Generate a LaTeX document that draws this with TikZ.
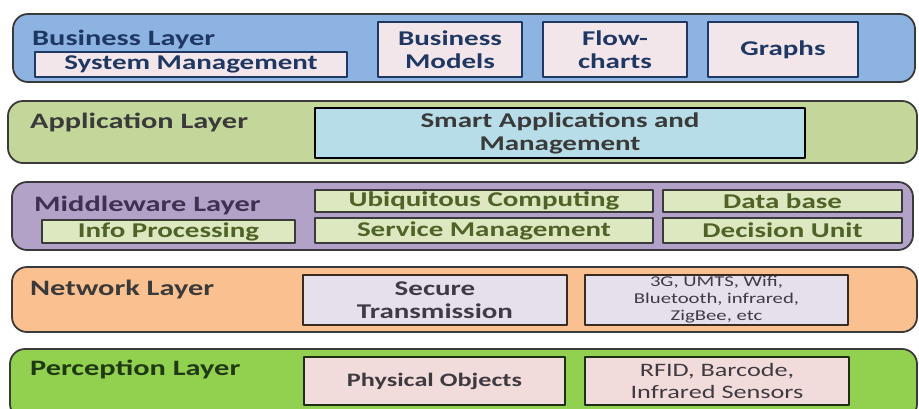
\documentclass[tikz,border=0pt]{standalone}
\usepackage{fontspec}
\setmainfont{Carlito}[FakeStretch=1.38]
\definecolor{edge}{HTML}{3A3A3A}
\definecolor{bizfill}{HTML}{8DB3E2}
\definecolor{bizbox}{HTML}{F3E6EB}
\definecolor{biztext}{HTML}{1F3763}
\definecolor{appfill}{HTML}{C4D79B}
\definecolor{appbox}{HTML}{B7DEE8}
\definecolor{apptext}{HTML}{3A3A3A}
\definecolor{midfill}{HTML}{B3A2C7}
\definecolor{midbox}{HTML}{DDE8C0}
\definecolor{midtext}{HTML}{4F6228}
\definecolor{midlbl}{HTML}{3F3151}
\definecolor{netfill}{HTML}{FAC090}
\definecolor{netbox}{HTML}{E6E0EC}
\definecolor{netedge}{HTML}{3B2A20}
\definecolor{nettext}{HTML}{3F3A45}
\definecolor{perfill}{HTML}{92D050}
\definecolor{perbox}{HTML}{F2DCDB}
\definecolor{peredge}{HTML}{1E2E14}
\definecolor{pertext}{HTML}{3F3A40}
\definecolor{perlbl}{HTML}{1F3A12}
\begin{document}
\begin{tikzpicture}[x=1pt,y=-1pt,line join=round,
	lyr/.style={draw=edge,line width=1.8pt,rounded corners=15pt,inner sep=0pt},
	cell/.style={draw,line width=2pt,inner sep=0pt,align=center,font=\bfseries\fontsize{21}{23}\selectfont},
	small/.style={font=\fontsize{15}{17}\selectfont},
	ttl/.style={anchor=west,inner sep=0pt,font=\bfseries\fontsize{22}{24}\selectfont},
	sz/.style 2 args={minimum width=#1pt,minimum height=#2pt}]
	\useasboundingbox (0,0) rectangle (919,408);
	\clip (0,0) rectangle (919,408);
	\node[lyr,fill=bizfill,sz={902}{68}] (business) at (464,48) {};
	\node[ttl,text=biztext] (businesslbl) at (32,40) {Business Layer};
	\node[cell,draw=biztext,fill=bizbox,text=biztext,sz={312}{25}] (sysmgmt) at (191,64.5) {System Management};
	\node[cell,draw=biztext,fill=bizbox,text=biztext,sz={144}{55}] (bizmodels) at (450,49.5) {Business\\Models};
	\node[cell,draw=biztext,fill=bizbox,text=biztext,sz={144}{55}] (flowcharts) at (615,49.5) {Flow-\\charts};
	\node[cell,draw=biztext,fill=bizbox,text=biztext,sz={150}{55}] (graphs) at (783,49.5) {Graphs};
	\node[lyr,fill=appfill,sz={909}{62}] (application) at (462.5,132) {};
	\node[ttl,text=apptext] (applicationlbl) at (30,122) {Application Layer};
	\node[cell,draw=black,fill=appbox,text=apptext,sz={490}{50}] (smartapps) at (560,133) {Smart Applications and\\Management};
	\node[lyr,fill=midfill,sz={901}{68}] (middleware) at (462.5,216) {};
	\node[ttl,text=midlbl] (middlewarelbl) at (34,206) {Middleware Layer};
	\node[cell,draw=edge,fill=midbox,text=midtext,sz={338}{22}] (ubiquitous) at (484,201) {Ubiquitous Computing};
	\node[cell,draw=edge,fill=midbox,text=midtext,sz={239}{22}] (database) at (782.5,201) {Data base};
	\node[cell,draw=edge,fill=midbox,text=midtext,sz={253}{23}] (infoproc) at (168.5,231.5) {Info Processing};
	\node[cell,draw=edge,fill=midbox,text=midtext,sz={338}{25}] (servmgmt) at (484,230.5) {Service Management};
	\node[cell,draw=edge,fill=midbox,text=midtext,sz={239}{25}] (decision) at (782.5,230.5) {Decision Unit};
	\node[lyr,fill=netfill,sz={905}{65}] (network) at (464.5,299.5) {};
	\node[ttl,text=apptext] (networklbl) at (30,290) {Network Layer};
	\node[cell,draw=netedge,fill=netbox,text=nettext,sz={264}{50}] (secure) at (435,300) {Secure\\Transmission};
	\node[cell,small,draw=netedge,fill=netbox,text=nettext,sz={263}{50}] (wireless) at (716.5,300) {3G, UMTS, Wifi,\\Bluetooth, infrared,\\ZigBee, etc};
	\node[lyr,fill=perfill,sz={907}{70}] (perception) at (463.5,384) {};
	\node[ttl,text=perlbl] (perceptionlbl) at (30,369) {Perception Layer};
	\node[cell,draw=peredge,fill=perbox,text=pertext,font=\bfseries\fontsize{19}{22}\selectfont,sz={261}{48}] (physical) at (434.5,381) {Physical Objects};
	\node[cell,draw=peredge,fill=perbox,text=pertext,font=\fontsize{19}{22}\selectfont,sz={264}{48}] (rfid) at (717,381) {RFID, Barcode,\\Infrared Sensors};
\end{tikzpicture}
\end{document}
